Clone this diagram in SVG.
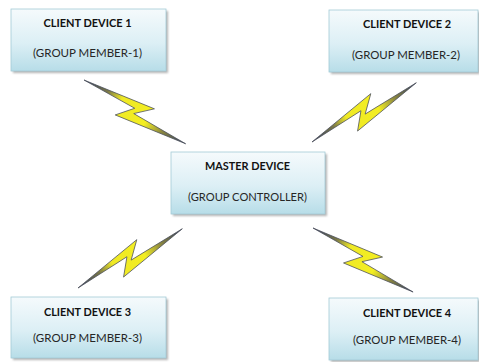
<svg xmlns="http://www.w3.org/2000/svg" width="479" height="362" viewBox="0 0 479 362">
  <defs>
    <linearGradient id="boxFill" x1="0" y1="0" x2="0" y2="1">
      <stop offset="0" stop-color="#f5fafc"/>
      <stop offset="0.55" stop-color="#dceff5"/>
      <stop offset="1" stop-color="#b7dde8"/>
    </linearGradient>
    <linearGradient id="boltFill" x1="0" y1="0" x2="1" y2="0">
      <stop offset="0" stop-color="#2e3a5e"/>
      <stop offset="0.22" stop-color="#7a7848"/>
      <stop offset="0.35" stop-color="#efe925"/>
      <stop offset="0.62" stop-color="#f3ee22"/>
      <stop offset="0.78" stop-color="#8a8640"/>
      <stop offset="1" stop-color="#2e3a5e"/>
    </linearGradient>
    <filter id="soft" x="-10%" y="-10%" width="130%" height="140%">
      <feGaussianBlur stdDeviation="1.2"/>
    </filter>
    <!-- lightning bolt drawn along the x axis from (0,0) to (120,0) -->
    <path id="bolt" d="M0,0 L75,-13 L60,2 L120,0 L45,13 L58,-3 Z"/>
  </defs>
  <style>
    .shadow { fill: #8c8c8c; opacity: 0.65; filter: url(#soft); }
    .box { fill: url(#boxFill); stroke: #a3cbd6; stroke-width: 0.8; }
    .title { font-family: Lato, "Liberation Sans", Arial, sans-serif; font-weight: bold; font-size: 11.5px; fill: #111; text-anchor: middle; }
    .sub { font-family: Lato, "Liberation Sans", Arial, sans-serif; font-size: 11.5px; fill: #262626; text-anchor: middle; }
    .bolt { fill: url(#boltFill); stroke: #4a4e5a; stroke-width: 0.7; stroke-linejoin: miter; }
  </style>

  <rect width="479" height="362" fill="#ffffff"/>

  <g id="connectors">
    <use href="#bolt" class="bolt" transform="translate(84,80) rotate(32.1)"/>
    <use href="#bolt" class="bolt" transform="translate(312,142) rotate(-29.6)"/>
    <use href="#bolt" class="bolt" transform="translate(78,288) rotate(-29.6)"/>
    <use href="#bolt" class="bolt" transform="translate(313,228) rotate(32.6) scale(0.99,1)"/>
  </g>

  <g id="client1">
    <rect class="shadow" x="13" y="11" width="155" height="62"/>
    <rect class="box" x="11" y="9" width="155" height="62"/>
    <text class="title" x="87.5" y="26.8" textLength="88" lengthAdjust="spacingAndGlyphs">CLIENT DEVICE 1</text>
    <text class="sub" x="87.5" y="57.3" textLength="109" lengthAdjust="spacingAndGlyphs">(GROUP MEMBER-1)</text>
  </g>

  <g id="client2">
    <rect class="shadow" x="331" y="12" width="149" height="62"/>
    <rect class="box" x="329" y="10" width="149" height="62"/>
    <text class="title" x="407" y="28" textLength="88" lengthAdjust="spacingAndGlyphs">CLIENT DEVICE 2</text>
    <text class="sub" x="406" y="58.6" textLength="108" lengthAdjust="spacingAndGlyphs">(GROUP MEMBER-2)</text>
  </g>

  <g id="master">
    <rect class="shadow" x="173" y="154" width="154" height="62"/>
    <rect class="box" x="171" y="152" width="154" height="62"/>
    <text class="title" x="247.5" y="170" textLength="85" lengthAdjust="spacingAndGlyphs">MASTER DEVICE</text>
    <text class="sub" x="247.5" y="201.1" textLength="119" lengthAdjust="spacingAndGlyphs">(GROUP CONTROLLER)</text>
  </g>

  <g id="client3">
    <rect class="shadow" x="13" y="299" width="155" height="61"/>
    <rect class="box" x="11" y="297" width="155" height="61"/>
    <text class="title" x="87.5" y="316" textLength="87" lengthAdjust="spacingAndGlyphs">CLIENT DEVICE 3</text>
    <text class="sub" x="87.5" y="342.1" textLength="109" lengthAdjust="spacingAndGlyphs">(GROUP MEMBER-3)</text>
  </g>

  <g id="client4">
    <rect class="shadow" x="331" y="300" width="149" height="62"/>
    <rect class="box" x="329" y="298" width="149" height="62"/>
    <text class="title" x="407" y="317" textLength="88" lengthAdjust="spacingAndGlyphs">CLIENT DEVICE 4</text>
    <text class="sub" x="407" y="344.1" textLength="108" lengthAdjust="spacingAndGlyphs">(GROUP MEMBER-4)</text>
  </g>
</svg>
